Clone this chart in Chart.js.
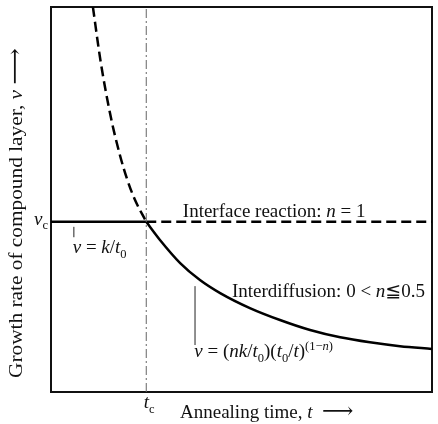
<!DOCTYPE html>
<html>
<head>
<meta charset="utf-8">
<script src="https://cdn.jsdelivr.net/npm/chart.js@4/dist/chart.umd.min.js"></script>
<style>
  html, body { margin: 0; padding: 0; background: #fff; }
  #wrap { width: 438px; height: 424px; }
</style>
</head>
<body>
<div id="wrap"><canvas id="c" width="438" height="424"></canvas></div>
<script>
// ---- data (arbitrary units; axes run 0..100) ----
const tc = 25;        // critical annealing time t_c
const vc = 44.2;      // critical growth rate v_c
// interface-reaction curve extrapolated below t_c (dashed)
const interfaceT = [11.0, 13.0, 15.7, 18.1, 20.0, 22.0, 25.0];
const interfaceV = [100, 86.0, 71.4, 61.5, 55.2, 50.0, 44.2];
// interdiffusion curve beyond t_c (solid)
const diffT = [25, 28.6, 33.9, 39.1, 44.4, 52.2, 60.1, 68.0, 75.9, 83.7, 91.6, 100];
const diffV = [44.2, 39.5, 33.5, 29.1, 25.7, 21.8, 18.7, 16.1, 14.2, 12.9, 11.9, 11.2];
const tRange = [0, 100];
const vRange = [0, 100];

const FONT = '"Liberation Serif","DejaVu Serif","DejaVu Sans",serif';
const S = 19;

function pts(xs, ys) { return xs.map((x, i) => ({ x: x, y: ys[i] })); }

function layoutRich(ctx, segs, size) {
  let total = 0;
  const parts = segs.map(s => {
    const small = s.sub || s.sup;
    const sz = (small ? size * 0.66 : size) * (s.k || 1);
    const font = (s.it ? 'italic ' : '') + sz + 'px ' + FONT;
    ctx.font = font;
    const w = ctx.measureText(s.t).width;
    total += w;
    return { s: s, font: font, w: w, dy: s.sub ? size * 0.24 : (s.sup ? -size * 0.36 : 0) };
  });
  return { parts: parts, total: total };
}

function drawRich(ctx, segs, x, y, size, align) {
  const L = layoutRich(ctx, segs, size);
  let cx = align === 'center' ? x - L.total / 2 : (align === 'right' ? x - L.total : x);
  ctx.textAlign = 'left';
  ctx.textBaseline = 'alphabetic';
  for (const p of L.parts) {
    ctx.font = p.font;
    ctx.fillText(p.s.t, cx, y + p.dy);
    cx += p.w;
  }
}

const annot = {
  id: 'annot',
  afterDraw(chart) {
    const ctx = chart.ctx;
    const xs = chart.scales.x, ys = chart.scales.y;
    const X = v => xs.getPixelForValue(v), Y = v => ys.getPixelForValue(v);
    const a = chart.chartArea;
    ctx.save();
    ctx.fillStyle = '#111';
    // in-plot labels
    drawRich(ctx, [{ t: 'Interface reaction: ' }, { t: 'n', it: true }, { t: ' = 1' }], X(34.6), Y(45.5), S, 'left');
    drawRich(ctx, [{ t: 'Interdiffusion: 0 < ' }, { t: 'n', it: true }, { t: '≦0.5' }], X(47.5), Y(24.7), S, 'left');
    drawRich(ctx, [{ t: 'v', it: true }, { t: ' = ' }, { t: 'k', it: true }, { t: '/' }, { t: 't', it: true }, { t: '0', sub: true }], X(5.7), Y(36.1), S, 'left');
    drawRich(ctx, [{ t: 'v', it: true }, { t: ' = (' }, { t: 'nk', it: true }, { t: '/' }, { t: 't', it: true }, { t: '0', sub: true },
      { t: ')(' }, { t: 't', it: true }, { t: '0', sub: true }, { t: '/' }, { t: 't', it: true }, { t: ')' },
      { t: '(1−', sup: true }, { t: 'n', sup: true, it: true }, { t: ')', sup: true }], X(37.6), Y(9.1), S, 'left');
    // leader lines
    ctx.strokeStyle = '#222';
    ctx.lineWidth = 1;
    ctx.beginPath();
    ctx.moveTo(X(6.0), Y(42.9)); ctx.lineTo(X(6.0), Y(40.2));
    ctx.moveTo(X(37.8), Y(27.5)); ctx.lineTo(X(37.8), Y(12.2));
    ctx.stroke();
    // tick labels
    drawRich(ctx, [{ t: 'v', it: true }, { t: 'c', sub: true }], a.left - 3, Y(vc) + 3, S, 'right');
    drawRich(ctx, [{ t: 't', it: true }, { t: 'c', sub: true }], X(tc) + 3, a.bottom + 16, S, 'center');
    // axis titles
    drawRich(ctx, [{ t: 'Annealing time, ' }, { t: 't', it: true }, { t: '  ' }, { t: '⟶', k: 1.15 }], 180, a.bottom + 26, S, 'left');
    const ySegs = [{ t: 'Growth rate of compound layer, ' }, { t: 'v', it: true }];
    const yMain = layoutRich(ctx, ySegs, S).total;
    const stretch = (a.bottom - 14 - 90) / yMain;
    ctx.translate(a.left - 29, a.bottom - 14);
    ctx.rotate(-Math.PI / 2);
    ctx.scale(stretch, 1);
    drawRich(ctx, ySegs.concat([{ t: ' ' }, { t: '⟶', k: 1.2 }]), 0, 0, S, 'left');
    ctx.restore();
  }
};

const blank = { display: false };
const axisBase = (pos, range) => ({
  type: 'linear', position: pos, min: range[0], max: range[1],
  ticks: { display: false }, grid: { display: false, drawTicks: false },
  border: { display: true, color: '#111', width: 2 }, title: blank
});

new Chart(document.getElementById('c'), {
  type: 'scatter',
  data: {
    datasets: [
      { data: pts([tc, tc], vRange), showLine: true, borderColor: '#666', borderWidth: 1, borderDash: [9, 3, 2, 3], pointRadius: 0 },
      { data: pts([tRange[0], tc], [vc, vc]), showLine: true, borderColor: '#000', borderWidth: 2.5, pointRadius: 0 },
      { data: pts([tc, tRange[1]], [vc, vc]), showLine: true, borderColor: '#000', borderWidth: 2.5, borderDash: [10, 5], pointRadius: 0 },
      { data: pts(interfaceT, interfaceV), showLine: true, borderColor: '#000', borderWidth: 2.5, borderDash: [10, 5], pointRadius: 0, cubicInterpolationMode: 'monotone' },
      { data: pts(diffT, diffV), showLine: true, borderColor: '#000', borderWidth: 2.5, pointRadius: 0, cubicInterpolationMode: 'monotone' }
    ]
  },
  options: {
    responsive: false,
    animation: false,
    layout: { padding: { left: 51, top: 7, right: 6, bottom: 32 } },
    plugins: { legend: blank, tooltip: { enabled: false } },
    scales: {
      x: axisBase('bottom', tRange),
      y: axisBase('left', vRange),
      x2: axisBase('top', tRange),
      y2: axisBase('right', vRange)
    }
  },
  plugins: [annot]
});
</script>
</body>
</html>
